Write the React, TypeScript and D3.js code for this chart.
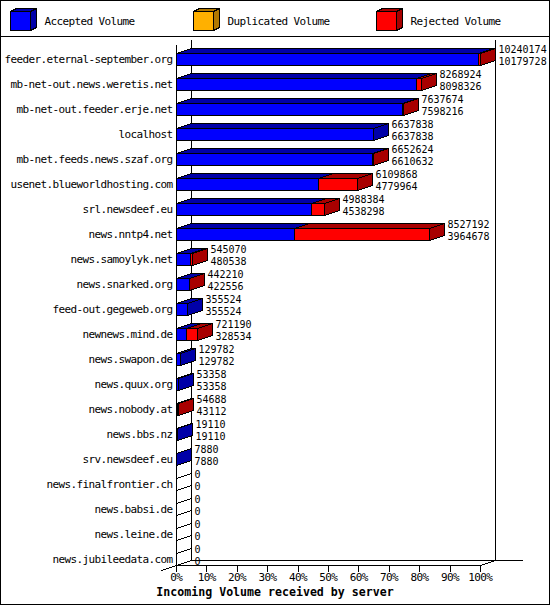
import React, { useEffect } from 'react';
import * as d3 from 'd3';

const categories = [
  'feeder.eternal-september.org',
  'mb-net-out.news.weretis.net',
  'mb-net-out.feeder.erje.net',
  'localhost',
  'mb-net.feeds.news.szaf.org',
  'usenet.blueworldhosting.com',
  'srl.newsdeef.eu',
  'news.nntp4.net',
  'news.samoylyk.net',
  'news.snarked.org',
  'feed-out.gegeweb.org',
  'newnews.mind.de',
  'news.swapon.de',
  'news.quux.org',
  'news.nobody.at',
  'news.bbs.nz',
  'srv.newsdeef.eu',
  'news.finalfrontier.ch',
  'news.babsi.de',
  'news.leine.de',
  'news.jubileedata.com',
];

const totalVolume = [
  10240174, 8268924, 7637674, 6637838, 6652624, 6109868, 4988384, 8527192,
  545070, 442210, 355524, 721190, 129782, 53358, 54688, 19110, 7880, 0, 0, 0, 0,
];

const acceptedVolume = [
  10179728, 8098326, 7598216, 6637838, 6610632, 4779964, 4538298, 3964678,
  480538, 422556, 355524, 328534, 129782, 53358, 43112, 19110, 7880, 0, 0, 0, 0,
];

const duplicatedVolume = [
  0, 0, 0, 0, 0, 0, 0, 0, 0, 0, 0, 0, 0, 0, 0, 0, 0, 0, 0, 0, 0,
];

const rejectedVolume = [
  60446, 170598, 39458, 0, 41992, 1329904, 450086, 4562514,
  64532, 19654, 0, 392656, 0, 0, 11576, 0, 0, 0, 0, 0, 0,
];

const percentTicks = [0, 10, 20, 30, 40, 50, 60, 70, 80, 90, 100];

const seriesKeys = ['accepted', 'duplicated', 'rejected'];
const seriesNames = ['Accepted Volume', 'Duplicated Volume', 'Rejected Volume'];
const frontColors = ['#0000ff', '#ffb000', '#ff0000'];
const darkColors = ['#0000a8', '#b07800', '#a80000'];

const axisTitle = 'Incoming Volume received by server';

const FONT = '"DejaVu Sans Mono", "Liberation Mono", monospace';
const FS = 11;
const LS = -0.62;

export default function App() {
  useEffect(() => {
    document.body.style.margin = '0';
  }, []);

  const W = 550;
  const H = 605;
  const DX = 15;
  const DY = -5;

  const maxTotal = d3.max(totalVolume) as number;
  const x = d3.scaleLinear().domain([0, maxTotal]).range([176, 480]);
  const y = d3.scaleBand<string>().domain(categories).range([40, 565]);

  const table = categories.map((c, i) => ({
    category: c,
    accepted: acceptedVolume[i],
    duplicated: duplicatedVolume[i],
    rejected: rejectedVolume[i],
  }));
  const stacked = d3.stack<any>().keys(seriesKeys)(table);

  const px = (v: number) => Math.round(v) + 0.5;
  const pts = (arr: [number, number][]) => arr.map((p) => `${p[0]},${p[1]}`).join(' ');

  const x0 = px(x(0));
  const xMax = px(x(maxTotal));
  const yTopFront = 44.5;
  const yFloor = 565.5;

  const rows = categories.map((cat, i) => {
    const yT = Math.round((y(cat) as number) + 13) + 0.5;
    const yB = yT + 12;
    const segs: any[] = [];
    stacked.forEach((s, k) => {
      const d = s[i];
      if (d[1] - d[0] > 0) {
        segs.push({ k, a: px(x(d[0])), b: px(x(d[1])) });
      }
    });
    const xe = px(x(totalVolume[i]));
    const last = segs.length ? segs[segs.length - 1].k : -1;
    return { cat, i, yT, yB, segs, xe, last };
  });

  return (
    <svg width={W} height={H} style={{ display: 'block', background: '#fff' }}>
      <rect x={0} y={0} width={W} height={H} fill="#fff" />
      <rect x={0.5} y={0.5} width={W - 1} height={H - 1} fill="none" stroke="#000" />
      <line x1={0} x2={W} y1={36.5} y2={36.5} stroke="#000" shapeRendering="crispEdges" />

      {/* legend */}
      {seriesNames.map((name, k) => {
        const fx = 10.5 + 183 * k;
        const fy = 11.5;
        const w = 20;
        const h = 19;
        const dx = 6;
        const dy = -3;
        return (
          <g key={name} shapeRendering="crispEdges">
            <polygon
              points={pts([[fx, fy], [fx + w, fy], [fx + w + dx, fy + dy], [fx + dx, fy + dy]])}
              fill={darkColors[k]}
              stroke="#000"
            />
            <polygon
              points={pts([[fx + w, fy], [fx + w + dx, fy + dy], [fx + w + dx, fy + h + dy], [fx + w, fy + h]])}
              fill={darkColors[k]}
              stroke="#000"
            />
            <rect x={fx} y={fy} width={w} height={h} fill={frontColors[k]} stroke="#000" />
            <text x={fx + 34} y={25} fontFamily={FONT} fontSize={FS} letterSpacing={LS} fill="#000">
              {name}
            </text>
          </g>
        );
      })}

      {/* axes frame */}
      <g stroke="#000" shapeRendering="crispEdges" fill="none">
        <line x1={x0 + DX} x2={x0 + DX} y1={yTopFront + DY} y2={yFloor + DY} />
        <line x1={xMax + DX} x2={xMax + DX} y1={yTopFront + DY} y2={yFloor + DY} />
        <line x1={x0} x2={x0} y1={yTopFront} y2={yFloor} />
        <line x1={x0} x2={xMax} y1={yFloor} y2={yFloor} />
        <line x1={x0 + DX} x2={xMax + DX + 27} y1={yFloor + DY} y2={yFloor + DY} />
        <line x1={x0 - DX} x2={x0 + DX} y1={yFloor + 5} y2={yFloor + DY} />
        <line x1={xMax} x2={xMax + DX} y1={yFloor} y2={yFloor + DY} />
        {percentTicks.map((t) => {
          const tx = px(x((maxTotal * t) / 100));
          return <line key={t} x1={tx} x2={tx} y1={yFloor} y2={yFloor + 6} />;
        })}
      </g>

      {/* bars */}
      {rows.map((r) => (
        <g key={r.cat} shapeRendering="crispEdges">
          {r.segs.map((s: any) => (
            <g key={s.k}>
              <polygon
                points={pts([[s.a, r.yT], [s.b, r.yT], [s.b + DX, r.yT + DY], [s.a + DX, r.yT + DY]])}
                fill={darkColors[s.k]}
                stroke="#000"
              />
              <rect x={s.a} y={r.yT} width={s.b - s.a} height={r.yB - r.yT} fill={frontColors[s.k]} stroke="#000" />
            </g>
          ))}
          <polygon
            points={pts([[r.xe, r.yT], [r.xe + DX, r.yT + DY], [r.xe + DX, r.yB + DY], [r.xe, r.yB]])}
            fill={r.last >= 0 ? darkColors[r.last] : '#fff'}
            stroke="#000"
          />
        </g>
      ))}

      {/* labels */}
      <g fontFamily={FONT} fontSize={FS} letterSpacing={LS} fill="#000">
        {rows.map((r) => (
          <text key={r.cat} x={172.6} y={r.yT + 9.5} textAnchor="end">
            {r.cat}
          </text>
        ))}
        {percentTicks.map((t) => (
          <text key={t} x={x((maxTotal * t) / 100) + 0.3} y={581} textAnchor="middle">
            {t}%
          </text>
        ))}
      </g>
      <g fontFamily={FONT} fontSize={10} fill="#000">
        {rows.map((r) => (
          <g key={r.cat}>
            <text x={r.xe + DX + 3} y={r.yT - 0.5}>
              {totalVolume[r.i]}
            </text>
            <text x={r.xe + DX + 3} y={r.yT + 11.5}>
              {acceptedVolume[r.i]}
            </text>
          </g>
        ))}
      </g>

      <text
        x={W / 2}
        y={596}
        textAnchor="middle"
        fontFamily={FONT}
        fontSize={11.6}
        fontWeight="bold"
        fill="#000"
      >
        {axisTitle}
      </text>
    </svg>
  );
}
